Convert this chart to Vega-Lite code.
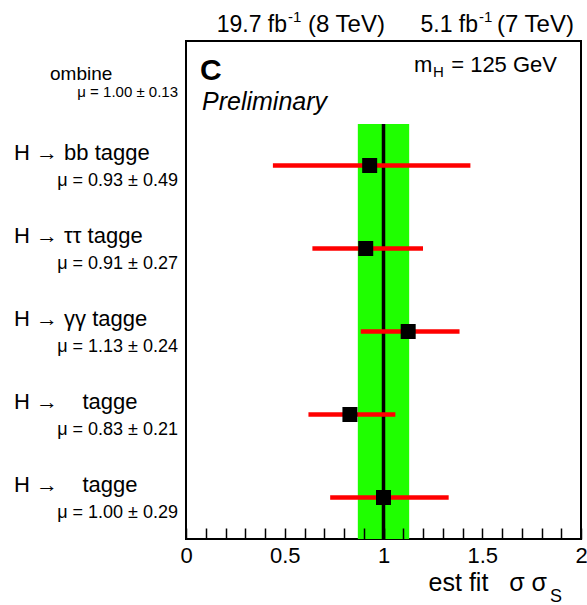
{
  "$schema": "https://vega.github.io/schema/vega-lite/v6.json",
  "width": 395,
  "height": 498,
  "autosize": {"type": "none"},
  "padding": {"left": 186, "top": 41, "right": 6, "bottom": 66},
  "background": "white",
  "config": {
    "view": {"stroke": "black", "strokeWidth": 2},
    "text": {"font": "Liberation Sans", "color": "black", "baseline": "alphabetic"}
  },
  "datasets": {
    "rows": [
      {"label": "H → bb tagge", "mu_text": "μ = 0.93 ± 0.49", "pos": 1.5, "mu": 0.93, "lo": 0.44, "hi": 1.44},
      {"label": "H → ττ tagge", "mu_text": "μ = 0.91 ± 0.27", "pos": 2.5, "mu": 0.91, "lo": 0.64, "hi": 1.2},
      {"label": "H → γγ tagge", "mu_text": "μ = 1.13 ± 0.24", "pos": 3.5, "mu": 1.125, "lo": 0.885, "hi": 1.385},
      {"label": "H →\u00a0\u00a0\u00a0\u00a0tagge", "mu_text": "μ = 0.83 ± 0.21", "pos": 4.5, "mu": 0.83, "lo": 0.62, "hi": 1.06},
      {"label": "H →\u00a0\u00a0\u00a0\u00a0tagge", "mu_text": "μ = 1.00 ± 0.29", "pos": 5.5, "mu": 1.0, "lo": 0.73, "hi": 1.33}
    ],
    "combined": [
      {"label": "ombine", "mu_text": "μ = 1.00 ± 0.13", "pos": 0.5, "mu": 1.0, "lo": 0.87, "hi": 1.13}
    ],
    "one": [{}]
  },
  "layer": [
    {
      "data": {"name": "combined"},
      "mark": {"type": "rect", "color": "#1fff00"},
      "encoding": {
        "x": {
          "field": "lo", "type": "quantitative",
          "scale": {"domain": [0, 2], "nice": false, "zero": false},
          "axis": {
            "values": [0, 0.1, 0.2, 0.3, 0.4, 0.5, 0.6, 0.7, 0.8, 0.9, 1, 1.1, 1.2, 1.3, 1.4, 1.5, 1.6, 1.7, 1.8, 1.9, 2],
            "tickCount": 30,
            "labelExpr": "abs(round(datum.value*10)) % 5 == 0 ? format(datum.value, '~g') : ''",
            "tickSize": -11,
            "tickWidth": 1.5,
            "tickColor": "black",
            "domain": false,
            "grid": false,
            "title": null,
            "labelFont": "Liberation Sans",
            "labelFontSize": 22,
            "labelColor": "black",
            "labelPadding": 17,
            "labelFlush": false,
            "labelOverlap": false,
            "zindex": 1,
            "encode": {"ticks": {"update": {"y2": {"signal": "abs(round(datum.value*10)) % 5 == 0 ? -11 : -5"}}}}
          }
        },
        "x2": {"field": "hi"},
        "y": {"datum": 1, "type": "quantitative", "scale": {"domain": [0, 6], "reverse": true, "nice": false, "zero": false}, "axis": null},
        "y2": {"datum": 6}
      }
    },
    {
      "data": {"name": "combined"},
      "mark": {"type": "rule", "color": "black", "strokeWidth": 3.5},
      "encoding": {
        "x": {"field": "mu", "type": "quantitative"},
        "y": {"datum": 1, "type": "quantitative"},
        "y2": {"datum": 6}
      }
    },
    {
      "data": {"name": "rows"},
      "mark": {"type": "rule", "color": "#ff0000", "strokeWidth": 4.5},
      "encoding": {
        "x": {"field": "lo", "type": "quantitative"},
        "x2": {"field": "hi"},
        "y": {"field": "pos", "type": "quantitative"}
      }
    },
    {
      "data": {"name": "rows"},
      "mark": {"type": "point", "shape": "square", "filled": true, "size": 225, "color": "black", "opacity": 1},
      "encoding": {
        "x": {"field": "mu", "type": "quantitative"},
        "y": {"field": "pos", "type": "quantitative"}
      }
    },
    {
      "data": {"name": "rows"},
      "mark": {"type": "text", "align": "left", "fontSize": 22, "dy": -6},
      "encoding": {
        "x": {"datum": -0.8709, "type": "quantitative"},
        "y": {"field": "pos", "type": "quantitative"},
        "text": {"field": "label"}
      }
    },
    {
      "data": {"name": "rows"},
      "mark": {"type": "text", "align": "right", "fontSize": 18, "dy": 20},
      "encoding": {
        "x": {"datum": -0.0405, "type": "quantitative"},
        "y": {"field": "pos", "type": "quantitative"},
        "text": {"field": "mu_text"}
      }
    },
    {
      "data": {"name": "combined"},
      "mark": {"type": "text", "align": "left", "fontSize": 19, "dy": -3},
      "encoding": {
        "x": {"datum": -0.6886, "type": "quantitative"},
        "y": {"field": "pos", "type": "quantitative"},
        "text": {"field": "label"}
      }
    },
    {
      "data": {"name": "combined"},
      "mark": {"type": "text", "align": "right", "fontSize": 15, "dy": 14},
      "encoding": {
        "x": {"datum": -0.0405, "type": "quantitative"},
        "y": {"field": "pos", "type": "quantitative"},
        "text": {"field": "mu_text"}
      }
    },
    {
      "data": {"name": "one"},
      "mark": {"type": "text", "align": "left", "fontSize": 30, "fontWeight": "bold", "text": "C"},
      "encoding": {"x": {"datum": 0.0709, "type": "quantitative"}, "y": {"datum": 0.4699, "type": "quantitative"}}
    },
    {
      "data": {"name": "one"},
      "mark": {"type": "text", "align": "left", "fontSize": 25, "fontStyle": "italic", "text": "Preliminary"},
      "encoding": {"x": {"datum": 0.081, "type": "quantitative"}, "y": {"datum": 0.8313, "type": "quantitative"}}
    },
    {
      "data": {"name": "one"},
      "mark": {"type": "text", "align": "left", "fontSize": 22, "text": "m"},
      "encoding": {"x": {"datum": 1.1544, "type": "quantitative"}, "y": {"datum": 0.3735, "type": "quantitative"}}
    },
    {
      "data": {"name": "one"},
      "mark": {"type": "text", "align": "left", "fontSize": 15, "dx": 19, "dy": 5, "text": "H"},
      "encoding": {"x": {"datum": 1.1544, "type": "quantitative"}, "y": {"datum": 0.3735, "type": "quantitative"}}
    },
    {
      "data": {"name": "one"},
      "mark": {"type": "text", "align": "right", "fontSize": 22, "text": "= 125 GeV"},
      "encoding": {"x": {"datum": 1.8785, "type": "quantitative"}, "y": {"datum": 0.3735, "type": "quantitative"}}
    },
    {
      "data": {"name": "one"},
      "mark": {"type": "text", "align": "right", "fontSize": 23, "text": "19.7 fb"},
      "encoding": {"x": {"datum": 0.5114, "type": "quantitative"}, "y": {"datum": -0.1084, "type": "quantitative"}}
    },
    {
      "data": {"name": "one"},
      "mark": {"type": "text", "align": "left", "fontSize": 15, "dx": 1, "dy": -10, "text": "-1"},
      "encoding": {"x": {"datum": 0.5114, "type": "quantitative"}, "y": {"datum": -0.1084, "type": "quantitative"}}
    },
    {
      "data": {"name": "one"},
      "mark": {"type": "text", "align": "left", "fontSize": 24, "text": "(8 TeV)"},
      "encoding": {"x": {"datum": 0.6177, "type": "quantitative"}, "y": {"datum": -0.1084, "type": "quantitative"}}
    },
    {
      "data": {"name": "one"},
      "mark": {"type": "text", "align": "right", "fontSize": 23, "text": "5.1 fb"},
      "encoding": {"x": {"datum": 1.4785, "type": "quantitative"}, "y": {"datum": -0.1084, "type": "quantitative"}}
    },
    {
      "data": {"name": "one"},
      "mark": {"type": "text", "align": "left", "fontSize": 15, "dx": 1, "dy": -10, "text": "-1"},
      "encoding": {"x": {"datum": 1.4785, "type": "quantitative"}, "y": {"datum": -0.1084, "type": "quantitative"}}
    },
    {
      "data": {"name": "one"},
      "mark": {"type": "text", "align": "left", "fontSize": 24, "text": "(7 TeV)"},
      "encoding": {"x": {"datum": 1.5747, "type": "quantitative"}, "y": {"datum": -0.1084, "type": "quantitative"}}
    },
    {
      "data": {"name": "one"},
      "mark": {"type": "text", "align": "right", "fontSize": 25, "text": "est fit\u00a0\u00a0\u00a0σ σ"},
      "encoding": {"x": {"datum": 1.8278, "type": "quantitative"}, "y": {"datum": 6.626, "type": "quantitative"}}
    },
    {
      "data": {"name": "one"},
      "mark": {"type": "text", "align": "left", "fontSize": 18, "dx": 3, "dy": 11, "text": "S"},
      "encoding": {"x": {"datum": 1.8278, "type": "quantitative"}, "y": {"datum": 6.626, "type": "quantitative"}}
    }
  ]
}
